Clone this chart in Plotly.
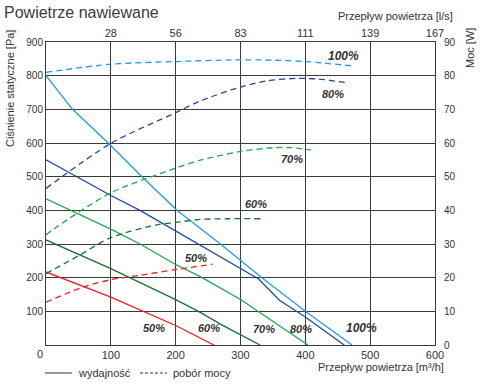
import plotly.graph_objects as go

# ---------------- data ----------------
# Solid curves: static pressure [Pa] vs airflow [m3/h]
p100_x = [0, 41, 96, 148, 202, 238, 269, 333, 400, 472]
p100_y = [800, 700, 600, 500, 400, 347, 300, 200, 100, 0]
p80_x = [0, 47, 100, 145, 197, 238, 300, 328, 360, 400, 460]
p80_y = [550, 500, 444, 400, 342, 298, 228, 196, 133, 83, 0]
p70_x = [0, 100, 145, 200, 238, 300, 404]
p70_y = [434, 344, 300, 239, 203, 135, 0]
p60_x = [0, 100, 200, 238, 269, 330]
p60_y = [312, 227, 135, 97, 62, 0]
p50_x = [0, 100, 200, 259]
p50_y = [217, 142, 58, 0]

# Dashed curves: power [W] vs airflow [m3/h]
w100_x = [0, 100, 200, 300, 350, 400, 430, 473]
w100_y = [81.0, 83.4, 84.2, 84.7, 84.6, 84.2, 83.7, 82.9]
w80_x = [0, 100, 200, 238, 300, 342, 390, 420, 464]
w80_y = [46.5, 59.9, 69.0, 72.5, 76.6, 78.5, 79.2, 79.0, 77.9]
w70_x = [0, 13, 100, 200, 238, 300, 350, 380, 409]
w70_y = [32.7, 34.6, 45.2, 52.5, 54.9, 57.5, 58.6, 58.6, 57.9]
w60_x = [0, 52, 100, 171, 200, 238, 280, 331]
w60_y = [21.2, 26.7, 31.9, 35.7, 36.4, 37.3, 37.5, 37.5]
w50_x = [0, 57, 100, 145, 200, 257]
w50_y = [12.7, 17.2, 19.4, 20.7, 22.4, 24.0]

x_ticks = [0, 100, 200, 300, 400, 500, 600]
x_ticktext = ["", "100", "200", "300", "400", "500", "600"]
top_ticktext = ["", "28", "56", "83", "111", "139", "167"]
y_ticks = [0, 100, 200, 300, 400, 500, 600, 700, 800, 900]
y_ticktext = ["", "100", "200", "300", "400", "500", "600", "700", "800", "900"]
w_ticks = [0, 10, 20, 30, 40, 50, 60, 70, 80, 90]

labels_speed = ["50%", "60%", "70%", "80%", "100%"]

# ---------------- styles ----------------
C100 = "#1f9de0"
C80 = "#23489b"
C70 = "#1fa74c"
C60 = "#1a6f36"
C50 = "#ec1c24"
GRID = "#3a3a3a"
TXT = "#333333"
FONT = "Liberation Sans, Arial, sans-serif"

fig = go.Figure()

solid = [(p100_x, p100_y, C100), (p80_x, p80_y, C80), (p70_x, p70_y, C70),
         (p60_x, p60_y, C60), (p50_x, p50_y, C50)]
for xs, ys, c in solid:
    fig.add_trace(go.Scatter(x=xs, y=ys, mode="lines", line=dict(color=c, width=1.3),
                             xaxis="x", yaxis="y", showlegend=False, hoverinfo="skip"))

dashed = [(w100_x, w100_y, C100), (w80_x, w80_y, C80), (w70_x, w70_y, C70),
          (w60_x, w60_y, C60), (w50_x, w50_y, C50)]
for xs, ys, c in dashed:
    fig.add_trace(go.Scatter(x=xs, y=ys, mode="lines",
                             line=dict(color=c, width=1.3, dash="6px,4px", shape="spline", smoothing=0.8),
                             xaxis="x", yaxis="y2", showlegend=False, hoverinfo="skip"))

# invisible trace to activate top axis
fig.add_trace(go.Scatter(x=[0, 600], y=[0, 0], mode="lines", line=dict(width=0),
                         xaxis="x2", yaxis="y", showlegend=False, hoverinfo="skip", opacity=0))

axis_common = dict(showline=True, linecolor=GRID, linewidth=1, ticks="", zeroline=False,
                   tickfont=dict(family=FONT, size=11, color=TXT))
yfont = dict(family=FONT, size=10, color=TXT)

fig.update_layout(
    width=480, height=390,
    margin=dict(l=46, r=45, t=42, b=45),
    paper_bgcolor="white", plot_bgcolor="white",
    font=dict(family=FONT, color=TXT),
    xaxis=dict(range=[0, 600], tickvals=x_ticks, ticktext=x_ticktext, showgrid=True,
               gridcolor=GRID, gridwidth=1, **axis_common),
    xaxis2=dict(range=[0, 600], overlaying="x", side="top", tickvals=x_ticks,
                ticktext=top_ticktext, showgrid=False, **axis_common),
    yaxis=dict(range=[0, 900], tickvals=y_ticks, ticktext=y_ticktext, showgrid=True,
               gridcolor=GRID, gridwidth=1, **{**axis_common, "tickfont": yfont}),
    yaxis2=dict(range=[0, 90], overlaying="y", side="right", tickvals=w_ticks, showgrid=False,
                ticklabelstandoff=6, **{**axis_common, "tickfont": yfont}),
)

ann = []
def lab(text, x, y, size=11):
    ann.append(dict(text=f"<b><i>{text}</i></b>", x=x, y=y, xref="x", yref="y", showarrow=False,
                    font=dict(family=FONT, size=size, color=TXT), xanchor="center", yanchor="middle"))

# bottom (pressure curve) labels
lab(labels_speed[0], 167, 50)
lab(labels_speed[1], 252, 50)
lab(labels_speed[2], 337, 48)
lab(labels_speed[3], 393, 48)
lab(labels_speed[4], 487, 51, 12)
# power curve labels
lab(labels_speed[4], 459, 858, 12)
lab(labels_speed[3], 443, 745)
lab(labels_speed[2], 379, 552)
lab(labels_speed[1], 324, 419)
lab(labels_speed[0], 231, 257)

def paper_x(px):
    return (px - 46) / 389.0

def paper_y(py):
    return (345 - py) / 303.0

def txt(text, px, py, xanchor="left", size=11, angle=0, color=TXT):
    ann.append(dict(text=text, x=paper_x(px), y=paper_y(py), xref="paper", yref="paper",
                    showarrow=False, xanchor=xanchor, yanchor="middle", textangle=angle,
                    font=dict(family=FONT, size=size, color=color)))

txt("Powietrze nawiewane", 2, 12.5, size=16, color="#3c3c3c")
txt("Ciśnienie statyczne [Pa]", 10, 89, xanchor="center", angle=-90)
txt("Moc [W]", 470, 48, xanchor="center", angle=-90)
txt("Przepływ powietrza [l/s]", 455, 16.5, xanchor="right")
txt("Przepływ powietrza [m³/h]", 446, 366.5, xanchor="right")
txt("0", 40, 354, xanchor="center")
txt("wydajność", 76, 373)
txt("pobór mocy", 171, 373)

fig.update_layout(annotations=ann)

fig.add_shape(type="line", xref="paper", yref="paper", x0=paper_x(45), x1=paper_x(72),
              y0=paper_y(373), y1=paper_y(373), line=dict(color=TXT, width=1))
fig.add_shape(type="line", xref="paper", yref="paper", x0=paper_x(140), x1=paper_x(167),
              y0=paper_y(373), y1=paper_y(373), line=dict(color=TXT, width=1, dash="3px,2px"))

fig.write_html("out.html", config={"displayModeBar": False},
               post_script="document.body.style.margin='0';document.body.style.overflow='hidden';")
